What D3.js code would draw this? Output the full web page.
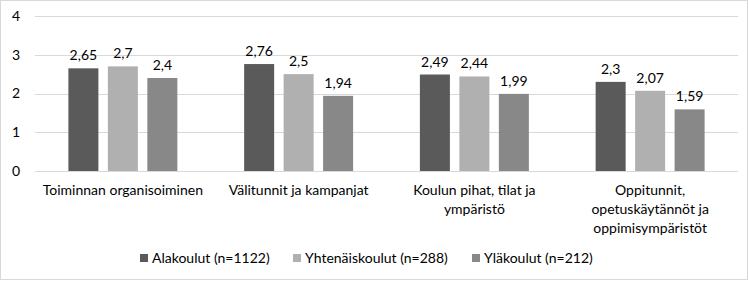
<!DOCTYPE html>
<html>
<head>
<meta charset="utf-8">
<script src="https://cdn.jsdelivr.net/npm/d3@7"></script>
<style>
  body { margin: 0; background: #fff; }
  svg { font-family: Lato, "Open Sans", sans-serif; }
</style>
</head>
<body>
<div class="chart"></div>
<script>
const categories = [
  ['Toiminnan organisoiminen'],
  ['Välitunnit ja kampanjat'],
  ['Koulun pihat, tilat ja', 'ympäristö'],
  ['Oppitunnit,', 'opetuskäytännöt ja', 'oppimisympäristöt']
];
const seriesNames = ['Alakoulut (n=1122)', 'Yhtenäiskoulut (n=288)', 'Yläkoulut (n=212)'];
const alakoulut = [2.65, 2.76, 2.49, 2.3];
const yhtenaiskoulut = [2.7, 2.5, 2.44, 2.07];
const ylakoulut = [2.4, 1.94, 1.99, 1.59];
const yTicks = [0, 1, 2, 3, 4];
const colors = ['#5a5a5a', '#b0b0b0', '#888888'];

const series = [alakoulut, yhtenaiskoulut, ylakoulut];

const width = 748, height = 281;
const svg = d3.select('.chart').append('svg')
  .attr('width', width)
  .attr('height', height);

// outer frame
svg.append('rect')
  .attr('x', 0.5).attr('y', 0.5)
  .attr('width', width - 1).attr('height', height - 2)
  .attr('fill', 'none')
  .attr('stroke', '#d9d9d9');

const x0 = d3.scaleBand()
  .domain(d3.range(categories.length))
  .range([35, 738])
  .paddingInner(0.38)
  .paddingOuter(0.19);

const x1 = d3.scaleBand()
  .domain(d3.range(series.length))
  .range([0, x0.bandwidth()])
  .paddingInner(0.24);

const y = d3.scaleLinear()
  .domain([0, 4])
  .range([171, 16]);

// gridlines
svg.append('g').selectAll('line')
  .data(yTicks)
  .join('line')
  .attr('x1', 35).attr('x2', 738)
  .attr('y1', d => Math.round(y(d)) + 0.5)
  .attr('y2', d => Math.round(y(d)) + 0.5)
  .attr('stroke', '#d9d9d9');

// y tick labels
svg.append('g').selectAll('text')
  .data(yTicks)
  .join('text')
  .attr('x', 20)
  .attr('y', d => y(d))
  .attr('dy', '0.35em')
  .attr('text-anchor', 'end')
  .attr('font-size', 14)
  .attr('fill', '#000')
  .text(d => d);

// bars
const groups = svg.append('g').selectAll('g')
  .data(categories)
  .join('g')
  .attr('transform', (d, i) => `translate(${x0(i)},0)`);

groups.each(function(d, i) {
  const g = d3.select(this);
  const vals = series.map(s => s[i]);
  g.selectAll('rect')
    .data(vals)
    .join('rect')
    .attr('x', (v, j) => x1(j))
    .attr('y', v => y(v))
    .attr('width', x1.bandwidth())
    .attr('height', v => y(0) - y(v))
    .attr('fill', (v, j) => colors[j]);

  g.selectAll('text.val')
    .data(vals)
    .join('text')
    .attr('class', 'val')
    .attr('x', (v, j) => x1(j) + x1.bandwidth() / 2)
    .attr('y', v => y(v) - 8)
    .attr('text-anchor', 'middle')
    .attr('font-size', 14)
    .attr('fill', '#000')
    .text(v => String(v).replace('.', ','));
});

// category labels
svg.append('g').selectAll('text')
  .data(categories)
  .join('text')
  .attr('x', (d, i) => x0(i) + x0.bandwidth() / 2)
  .attr('y', 195)
  .attr('text-anchor', 'middle')
  .attr('font-size', 14)
  .attr('fill', '#000')
  .each(function(lines) {
    d3.select(this).selectAll('tspan')
      .data(lines)
      .join('tspan')
      .attr('x', d3.select(this).attr('x'))
      .attr('dy', (l, k) => k === 0 ? 0 : 19)
      .text(l => l);
  });

// legend
const legendX = [140, 293, 472];
const legend = svg.append('g').selectAll('g')
  .data(seriesNames)
  .join('g')
  .attr('transform', (d, i) => `translate(${legendX[i]},258)`);

legend.append('rect')
  .attr('x', 0).attr('y', -4)
  .attr('width', 8).attr('height', 8)
  .attr('fill', (d, i) => colors[i]);

legend.append('text')
  .attr('x', 12)
  .attr('dy', '0.35em')
  .attr('font-size', 14)
  .attr('fill', '#000')
  .text(d => d);
</script>
</body>
</html>
